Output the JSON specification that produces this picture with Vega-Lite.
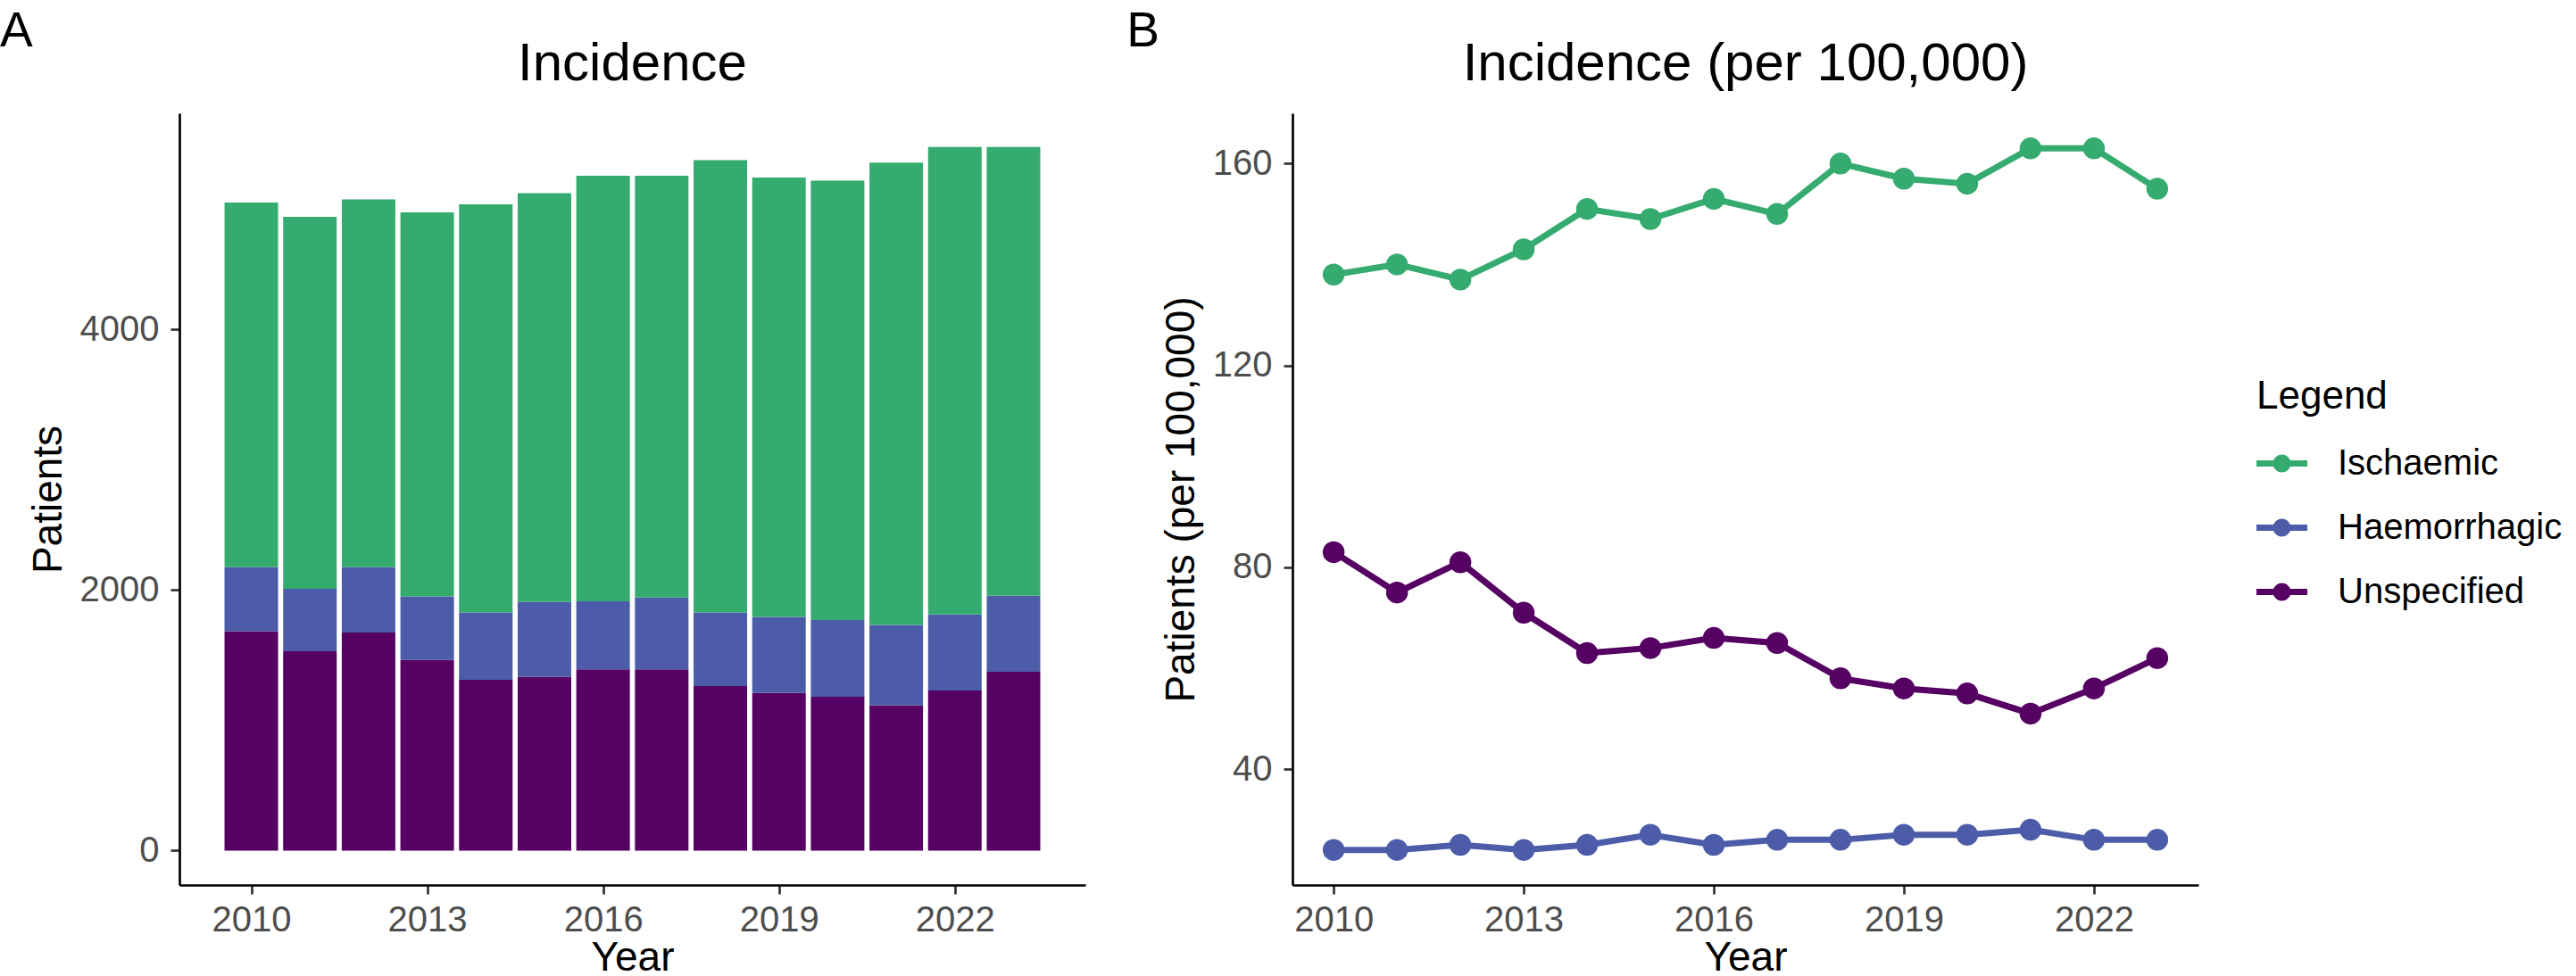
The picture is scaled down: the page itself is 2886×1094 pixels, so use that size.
{
  "$schema": "https://vega.github.io/schema/vega-lite/v6.json",
  "background": "white",
  "padding": {"top": 8, "left": 0, "right": 0, "bottom": 0},
  "datasets": {
    "counts": [
      {"year": 2010, "type": "Unspecified", "patients": 1684},
      {"year": 2010, "type": "Haemorrhagic", "patients": 493},
      {"year": 2010, "type": "Ischaemic", "patients": 2799},
      {"year": 2011, "type": "Unspecified", "patients": 1531},
      {"year": 2011, "type": "Haemorrhagic", "patients": 479},
      {"year": 2011, "type": "Ischaemic", "patients": 2856},
      {"year": 2012, "type": "Unspecified", "patients": 1675},
      {"year": 2012, "type": "Haemorrhagic", "patients": 502},
      {"year": 2012, "type": "Ischaemic", "patients": 2823},
      {"year": 2013, "type": "Unspecified", "patients": 1464},
      {"year": 2013, "type": "Haemorrhagic", "patients": 488},
      {"year": 2013, "type": "Ischaemic", "patients": 2948},
      {"year": 2014, "type": "Unspecified", "patients": 1311},
      {"year": 2014, "type": "Haemorrhagic", "patients": 517},
      {"year": 2014, "type": "Ischaemic", "patients": 3134},
      {"year": 2015, "type": "Unspecified", "patients": 1335},
      {"year": 2015, "type": "Haemorrhagic", "patients": 574},
      {"year": 2015, "type": "Ischaemic", "patients": 3139},
      {"year": 2016, "type": "Unspecified", "patients": 1392},
      {"year": 2016, "type": "Haemorrhagic", "patients": 522},
      {"year": 2016, "type": "Ischaemic", "patients": 3268},
      {"year": 2017, "type": "Unspecified", "patients": 1392},
      {"year": 2017, "type": "Haemorrhagic", "patients": 551},
      {"year": 2017, "type": "Ischaemic", "patients": 3239},
      {"year": 2018, "type": "Unspecified", "patients": 1263},
      {"year": 2018, "type": "Haemorrhagic", "patients": 565},
      {"year": 2018, "type": "Ischaemic", "patients": 3474},
      {"year": 2019, "type": "Unspecified", "patients": 1211},
      {"year": 2019, "type": "Haemorrhagic", "patients": 583},
      {"year": 2019, "type": "Ischaemic", "patients": 3374},
      {"year": 2020, "type": "Unspecified", "patients": 1182},
      {"year": 2020, "type": "Haemorrhagic", "patients": 588},
      {"year": 2020, "type": "Ischaemic", "patients": 3374},
      {"year": 2021, "type": "Unspecified", "patients": 1115},
      {"year": 2021, "type": "Haemorrhagic", "patients": 617},
      {"year": 2021, "type": "Ischaemic", "patients": 3551},
      {"year": 2022, "type": "Unspecified", "patients": 1230},
      {"year": 2022, "type": "Haemorrhagic", "patients": 584},
      {"year": 2022, "type": "Ischaemic", "patients": 3588},
      {"year": 2023, "type": "Unspecified", "patients": 1373},
      {"year": 2023, "type": "Haemorrhagic", "patients": 584},
      {"year": 2023, "type": "Ischaemic", "patients": 3445}
    ],
    "rates": [
      {"year": 2010, "type": "Ischaemic", "rate": 138},
      {"year": 2011, "type": "Ischaemic", "rate": 140},
      {"year": 2012, "type": "Ischaemic", "rate": 137},
      {"year": 2013, "type": "Ischaemic", "rate": 143},
      {"year": 2014, "type": "Ischaemic", "rate": 151},
      {"year": 2015, "type": "Ischaemic", "rate": 149},
      {"year": 2016, "type": "Ischaemic", "rate": 153},
      {"year": 2017, "type": "Ischaemic", "rate": 150},
      {"year": 2018, "type": "Ischaemic", "rate": 160},
      {"year": 2019, "type": "Ischaemic", "rate": 157},
      {"year": 2020, "type": "Ischaemic", "rate": 156},
      {"year": 2021, "type": "Ischaemic", "rate": 163},
      {"year": 2022, "type": "Ischaemic", "rate": 163},
      {"year": 2023, "type": "Ischaemic", "rate": 155},
      {"year": 2010, "type": "Haemorrhagic", "rate": 24},
      {"year": 2011, "type": "Haemorrhagic", "rate": 24},
      {"year": 2012, "type": "Haemorrhagic", "rate": 25},
      {"year": 2013, "type": "Haemorrhagic", "rate": 24},
      {"year": 2014, "type": "Haemorrhagic", "rate": 25},
      {"year": 2015, "type": "Haemorrhagic", "rate": 27},
      {"year": 2016, "type": "Haemorrhagic", "rate": 25},
      {"year": 2017, "type": "Haemorrhagic", "rate": 26},
      {"year": 2018, "type": "Haemorrhagic", "rate": 26},
      {"year": 2019, "type": "Haemorrhagic", "rate": 27},
      {"year": 2020, "type": "Haemorrhagic", "rate": 27},
      {"year": 2021, "type": "Haemorrhagic", "rate": 28},
      {"year": 2022, "type": "Haemorrhagic", "rate": 26},
      {"year": 2023, "type": "Haemorrhagic", "rate": 26},
      {"year": 2010, "type": "Unspecified", "rate": 83},
      {"year": 2011, "type": "Unspecified", "rate": 75},
      {"year": 2012, "type": "Unspecified", "rate": 81},
      {"year": 2013, "type": "Unspecified", "rate": 71},
      {"year": 2014, "type": "Unspecified", "rate": 63},
      {"year": 2015, "type": "Unspecified", "rate": 64},
      {"year": 2016, "type": "Unspecified", "rate": 66},
      {"year": 2017, "type": "Unspecified", "rate": 65},
      {"year": 2018, "type": "Unspecified", "rate": 58},
      {"year": 2019, "type": "Unspecified", "rate": 56},
      {"year": 2020, "type": "Unspecified", "rate": 55},
      {"year": 2021, "type": "Unspecified", "rate": 51},
      {"year": 2022, "type": "Unspecified", "rate": 56},
      {"year": 2023, "type": "Unspecified", "rate": 62}
    ]
  },
  "resolve": {"scale": {"color": "independent"}, "legend": {"color": "independent"}},
  "spacing": 46,
  "hconcat": [
    {
      "title": {"text": "A", "anchor": "start", "frame": "bounds", "dx": -31, "fontSize": 55, "offset": -22},
      "resolve": {"scale": {"color": "independent"}, "legend": {"color": "independent"}},
      "vconcat": [
        {
          "data": {"name": "counts"},
          "title": {"text": "Incidence", "fontSize": 60, "offset": 24},
          "width": 1015,
          "height": 865,
          "transform": [
            {"calculate": "indexof(['Unspecified', 'Haemorrhagic', 'Ischaemic'], datum.type)", "as": "stack_order"}
          ],
          "mark": {"type": "bar", "size": 60},
          "encoding": {
            "x": {
              "field": "year",
              "type": "quantitative",
              "title": "Year",
              "scale": {"domain": [2008.85, 2024.15], "nice": false, "zero": false},
              "axis": {"values": [2010, 2013, 2016, 2019, 2022], "format": "d"}
            },
            "y": {
              "field": "patients",
              "type": "quantitative",
              "stack": "zero",
              "title": "Patients",
              "scale": {"domain": [-264, 5661], "nice": false, "zero": false},
              "axis": {"values": [0, 2000, 4000], "format": "d"}
            },
            "color": {
              "field": "type",
              "type": "nominal",
              "scale": {
                "domain": ["Ischaemic", "Haemorrhagic", "Unspecified"],
                "range": ["#35ab6f", "#4c5ca9", "#550062"]
              },
              "legend": null
            },
            "order": {"field": "stack_order", "type": "quantitative"}
          }
        }
      ]
    },
    {
      "title": {"text": "B", "anchor": "start", "frame": "bounds", "dx": -38, "fontSize": 55, "offset": -22},
      "resolve": {"scale": {"color": "independent"}, "legend": {"color": "independent"}},
      "vconcat": [
        {
          "data": {"name": "rates"},
          "title": {"text": "Incidence (per 100,000)", "fontSize": 60, "offset": 24},
          "width": 1015,
          "height": 865,
          "encoding": {
            "x": {
              "field": "year",
              "type": "quantitative",
              "title": "Year",
              "scale": {"domain": [2009.35, 2023.65], "nice": false, "zero": false},
              "axis": {"values": [2010, 2013, 2016, 2019, 2022], "format": "d"}
            },
            "y": {
              "field": "rate",
              "type": "quantitative",
              "title": "Patients (per 100,000)",
              "scale": {"domain": [17.05, 169.95], "nice": false, "zero": false},
              "axis": {"values": [40, 80, 120, 160]}
            },
            "color": {
              "field": "type",
              "type": "nominal",
              "scale": {
                "domain": ["Ischaemic", "Haemorrhagic", "Unspecified"],
                "range": ["#35ab6f", "#4c5ca9", "#550062"]
              },
              "legend": {
                "title": "Legend",
                "orient": "none",
                "legendX": 1080,
                "legendY": 296,
                "symbolType": "M-1,-0.12L1,-0.12L1,0.12L-1,0.12Z M0.35,0A0.35,0.35,0,1,1,-0.35,0A0.35,0.35,0,1,1,0.35,0Z",
                "symbolSize": 3249,
                "symbolStrokeWidth": 0,
                "symbolOpacity": 1,
                "labelFontSize": 40,
                "labelOffset": 34,
                "labelLimit": 500,
                "labelColor": "black",
                "titleFontSize": 44,
                "titleFontWeight": "normal",
                "titleColor": "black",
                "titlePadding": 24,
                "rowPadding": 23,
                "padding": 0
              }
            }
          },
          "layer": [
            {
              "mark": {"type": "line", "strokeWidth": 7}
            },
            {
              "mark": {"type": "point", "filled": true, "opacity": 1, "size": 600, "shape": "circle"}
            }
          ]
        }
      ]
    }
  ],
  "config": {
    "font": "Liberation Sans",
    "view": {"stroke": null},
    "title": {"font": "Liberation Sans", "fontWeight": "normal", "color": "black"},
    "legend": {"labelFont": "Liberation Sans", "titleFont": "Liberation Sans"},
    "axis": {
      "grid": false,
      "domainColor": "black",
      "domainWidth": 2.7,
      "tickColor": "#333333",
      "tickWidth": 2.7,
      "tickSize": 10,
      "labelFont": "Liberation Sans",
      "labelFontSize": 40,
      "labelColor": "#4d4d4d",
      "labelPadding": 9,
      "titleFont": "Liberation Sans",
      "titleFontSize": 46,
      "titleFontWeight": "normal",
      "titleColor": "black"
    },
    "axisX": {"titlePadding": 0},
    "axisY": {"titlePadding": 11, "labelPadding": 13}
  }
}
